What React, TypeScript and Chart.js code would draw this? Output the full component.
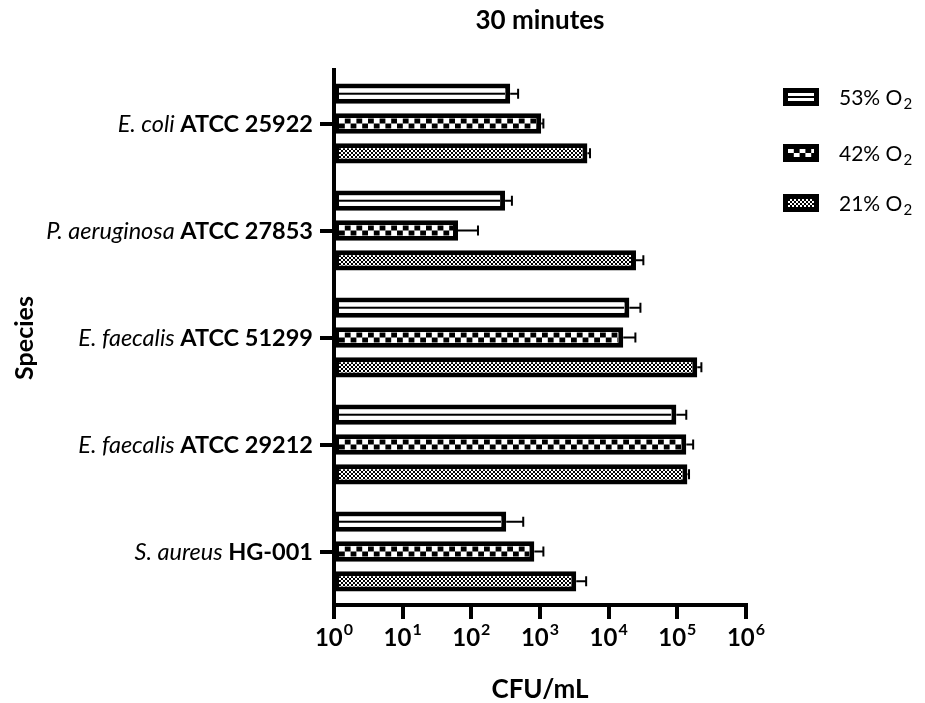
import React, { useEffect, useRef } from 'react';
import { Chart, registerables } from 'chart.js';

Chart.register(...registerables);

const speciesNames = ['E. coli', 'P. aeruginosa', 'E. faecalis', 'E. faecalis', 'S. aureus'];
const strainNames = ['ATCC 25922', 'ATCC 27853', 'ATCC 51299', 'ATCC 29212', 'HG-001'];
const categories = speciesNames.map((s, i) => s + ' ' + strainNames[i]);

const seriesLabels = ['53% O', '42% O', '21% O'];
const seriesSub = ['2', '2', '2'];

const o2_53 = [368, 310, 20000, 96700, 322];
const o2_53_err = [480, 390, 29000, 135000, 570];
const o2_42 = [1040, 64, 16300, 135000, 826];
const o2_42_err = [1120, 125, 24500, 170000, 1120];
const o2_21 = [4900, 25000, 195000, 140000, 3370];
const o2_21_err = [5350, 32000, 224000, 148000, 4700];

const tickValues = [1, 10, 100, 1000, 10000, 100000, 1000000];
const tickExponents = ['0', '1', '2', '3', '4', '5', '6'];

const titleText = '30 minutes';
const xTitle = 'CFU/mL';
const yTitle = 'Species';

const FONT = 'Lato, "Open Sans", sans-serif';
const BW = 5;

function fillPattern(ctx: CanvasRenderingContext2D, kind: number, l: number, t: number, w: number, h: number) {
  if (w <= 0 || h <= 0) return;
  ctx.save();
  ctx.beginPath();
  ctx.rect(l, t, w, h);
  ctx.clip();
  ctx.fillStyle = '#fff';
  ctx.fillRect(l, t, w, h);
  ctx.fillStyle = '#000';
  if (kind === 0) {
    ctx.fillRect(l, t + h / 2 - 1, w, 2);
  } else if (kind === 1) {
    const cw = 5.8;
    const ch = h / 2;
    const cols = Math.ceil(w / cw) + 1;
    for (let r = 0; r < 2; r++) {
      for (let c = 0; c < cols; c++) {
        if ((r + c) % 2 === 1) ctx.fillRect(l + c * cw, t + r * ch, cw, ch);
      }
    }
  } else {
    const cs = 2;
    const x0 = Math.round(l);
    const y0 = Math.round(t);
    for (let y = y0; y < t + h; y += cs) {
      for (let x = x0; x < l + w; x += cs) {
        if ((((x - x0) / cs) + ((y - y0) / cs)) % 2 === 0) ctx.fillRect(x, y, cs, cs);
      }
    }
  }
  ctx.restore();
}

const errors = [o2_53_err, o2_42_err, o2_21_err];

const customPlugin = {
  id: 'custom',
  afterDatasetsDraw(chart: any) {
    const ctx: CanvasRenderingContext2D = chart.ctx;
    const xScale = chart.scales.x;
    chart.data.datasets.forEach((ds: any, di: number) => {
      const meta = chart.getDatasetMeta(di);
      meta.data.forEach((el: any, j: number) => {
        const p = el.getProps(['x', 'y', 'base', 'height'], true);
        const left = Math.min(p.x, p.base);
        const right = Math.max(p.x, p.base);
        const top = p.y - p.height / 2;
        fillPattern(ctx, di, left + BW, top + BW, right - left - 2 * BW, p.height - 2 * BW);
        const ex = xScale.getPixelForValue(errors[di][j]);
        ctx.save();
        ctx.strokeStyle = '#000';
        ctx.lineWidth = 2;
        ctx.beginPath();
        ctx.moveTo(right, p.y);
        ctx.lineTo(ex, p.y);
        ctx.moveTo(ex, p.y - 5);
        ctx.lineTo(ex, p.y + 5);
        ctx.stroke();
        ctx.restore();
      });
    });
  },
  afterDraw(chart: any) {
    const ctx: CanvasRenderingContext2D = chart.ctx;
    const area = chart.chartArea;
    const xScale = chart.scales.x;
    const yScale = chart.scales.y;
    ctx.save();
    ctx.fillStyle = '#000';
    // title
    ctx.textAlign = 'center';
    ctx.textBaseline = 'middle';
    ctx.font = `bold 26px ${FONT}`;
    const cx = (area.left + area.right) / 2;
    ctx.fillText(titleText, cx, 21);
    // x title
    ctx.font = `bold 26px ${FONT}`;
    ctx.fillText(xTitle, cx, 690);
    // y title
    ctx.save();
    ctx.translate(25, 338);
    ctx.rotate(-Math.PI / 2);
    ctx.font = `bold 25px ${FONT}`;
    ctx.fillText(yTitle, 0, 0);
    ctx.restore();
    // x tick labels
    tickValues.forEach((v, i) => {
      const x = xScale.getPixelForValue(v);
      ctx.font = `bold 24px ${FONT}`;
      const w1 = ctx.measureText('10').width;
      ctx.font = `bold 16px ${FONT}`;
      const w2 = ctx.measureText(tickExponents[i]).width;
      const start = x - (w1 + w2 + 1) / 2;
      ctx.textAlign = 'left';
      ctx.textBaseline = 'alphabetic';
      ctx.font = `bold 24px ${FONT}`;
      ctx.fillText('10', start, 646);
      ctx.font = `bold 16px ${FONT}`;
      ctx.fillText(tickExponents[i], start + w1 + 1, 635);
    });
    // y tick labels
    categories.forEach((c, i) => {
      const y = yScale.getPixelForValue(i);
      const xr = area.left - 21;
      ctx.textBaseline = 'middle';
      ctx.textAlign = 'right';
      ctx.font = `bold 23.5px ${FONT}`;
      ctx.fillText(strainNames[i], xr, y + 1);
      const bw = ctx.measureText(strainNames[i]).width;
      ctx.font = `italic 23.5px ${FONT}`;
      const sp = ctx.measureText(' ').width;
      ctx.fillText(speciesNames[i], xr - bw - sp, y + 1);
    });
    // legend
    const rows = [97, 153, 203];
    seriesLabels.forEach((lab, i) => {
      const y = rows[i];
      const bx = 783, bwid = 36, bh = 18;
      ctx.fillStyle = '#000';
      ctx.fillRect(bx, y - bh / 2, bwid, bh);
      fillPattern(ctx, i, bx + BW, y - bh / 2 + BW, bwid - 2 * BW, bh - 2 * BW);
      ctx.fillStyle = '#000';
      ctx.textAlign = 'left';
      ctx.textBaseline = 'alphabetic';
      ctx.font = `21px ${FONT}`;
      ctx.fillText(lab, 839, y + 8);
      const w = ctx.measureText(lab).width;
      ctx.font = `15px ${FONT}`;
      ctx.fillText(seriesSub[i], 839 + w + 1, y + 12);
    });
    ctx.restore();
  },
};

export default function App() {
  const ref = useRef<HTMLCanvasElement | null>(null);
  useEffect(() => {
    if (!ref.current) return;
    const mk = (label: string, data: number[]) => ({
      label,
      data,
      backgroundColor: '#fff',
      borderColor: '#000',
      borderWidth: BW,
      borderSkipped: false,
      barPercentage: 0.68,
      categoryPercentage: 0.835,
    });
    const chart = new Chart(ref.current, {
      type: 'bar',
      data: {
        labels: categories,
        datasets: [mk('53% O2', o2_53), mk('42% O2', o2_42), mk('21% O2', o2_21)],
      },
      options: {
        indexAxis: 'y',
        animation: false,
        responsive: true,
        maintainAspectRatio: false,
        layout: { padding: { left: 320, right: 179, top: 70, bottom: 84 } },
        plugins: { legend: { display: false }, tooltip: { enabled: false }, title: { display: false } },
        scales: {
          x: {
            type: 'logarithmic',
            min: 1,
            max: 1000000,
            afterBuildTicks: (scale: any) => {
              scale.ticks = tickValues.map((v) => ({ value: v }));
            },
            ticks: { display: false },
            grid: { drawOnChartArea: false, drawTicks: true, tickLength: 14, lineWidth: 4, color: '#000' },
            border: { display: true, color: '#000', width: 4 },
          },
          y: {
            type: 'category',
            ticks: { display: false },
            grid: { offset: false, drawOnChartArea: false, drawTicks: true, tickLength: 14, lineWidth: 4, color: '#000' },
            border: { display: true, color: '#000', width: 4 },
          },
        },
      },
      plugins: [customPlugin],
    } as any);
    return () => chart.destroy();
  }, []);
  return (
    <div style={{ position: 'fixed', left: 0, top: 0, width: 925, height: 703, background: '#fff' }}>
      <canvas ref={ref} />
    </div>
  );
}
